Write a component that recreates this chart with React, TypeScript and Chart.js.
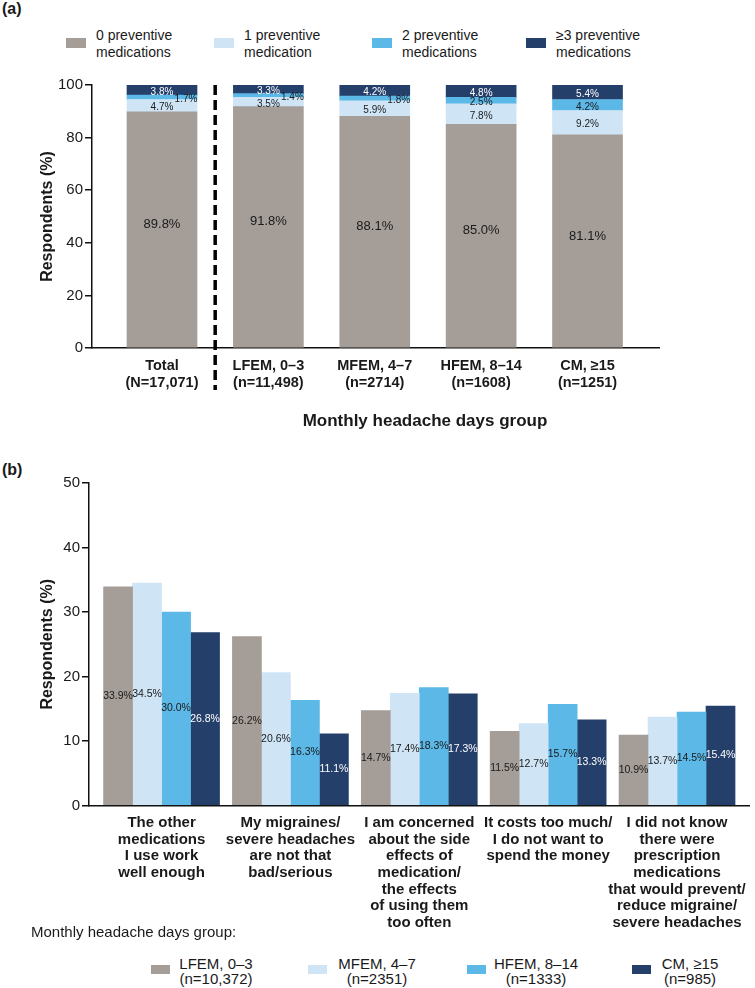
import React, { useEffect, useRef } from "react";
import { Chart, registerables } from "chart.js";

Chart.register(...registerables);

const FONT = '"Liberation Sans", Arial, Helvetica, sans-serif';

// ---------- Panel (a) data ----------
const groupsA: string[][] = [
  ["Total", "(N=17,071)"],
  ["LFEM, 0–3", "(n=11,498)"],
  ["MFEM, 4–7", "(n=2714)"],
  ["HFEM, 8–14", "(n=1608)"],
  ["CM, ≥15", "(n=1251)"],
];
const zeroMeds = [89.8, 91.8, 88.1, 85.0, 81.1];
const oneMed = [4.7, 3.5, 5.9, 7.8, 9.2];
const twoMeds = [1.7, 1.4, 1.8, 2.5, 4.2];
const threePlusMeds = [3.8, 3.3, 4.2, 4.8, 5.4];
const seriesNamesA: string[][] = [
  ["0 preventive", "medications"],
  ["1 preventive", "medication"],
  ["2 preventive", "medications"],
  ["≥3 preventive", "medications"],
];
const yTicksA = [0, 20, 40, 60, 80, 100];
const xTitleA = "Monthly headache days group";

// ---------- Panel (b) data ----------
const reasons: string[][] = [
  ["The other", "medications", "I use work", "well enough"],
  ["My migraines/", "severe headaches", "are not that", "bad/serious"],
  ["I am concerned", "about the side", "effects of", "medication/", "the effects", "of using them", "too often"],
  ["It costs too much/", "I do not want to", "spend the money"],
  ["I did not know", "there were", "prescription", "medications", "that would prevent/", "reduce migraine/", "severe headaches"],
];
const lfemB = [33.9, 26.2, 14.7, 11.5, 10.9];
const mfemB = [34.5, 20.6, 17.4, 12.7, 13.7];
const hfemB = [30.0, 16.3, 18.3, 15.7, 14.5];
const cmB = [26.8, 11.1, 17.3, 13.3, 15.4];
const groupNamesB: string[][] = [
  ["LFEM, 0–3", "(n=10,372)"],
  ["MFEM, 4–7", "(n=2351)"],
  ["HFEM, 8–14", "(n=1333)"],
  ["CM, ≥15", "(n=985)"],
];
const yTicksB = [0, 10, 20, 30, 40, 50];
const legendTitleB = "Monthly headache days group:";

// ---------- styles ----------
const COLORS = ["#a59d98", "#cfe5f6", "#5cb8e6", "#253f6b"];
const TEXT = "#1a1a1a";
const LABEL_COLORS_A = [TEXT, TEXT, TEXT, "#ffffff"];
const LABEL_COLORS_B = [TEXT, TEXT, TEXT, "#ffffff"];
const legendLeftA = [66, 214, 372, 526];
const legendSwatchB = [151, 308, 467, 632];
const legendTextCenterB = [216, 377, 536, 690];

const seriesA = [zeroMeds, oneMed, twoMeds, threePlusMeds];
const seriesB = [lfemB, mfemB, hfemB, cmB];

const fmt = (v: number) => `${v.toFixed(1)}%`;

const labelsPluginA = {
  id: "labelsA",
  afterDatasetsDraw(chart: any) {
    const ctx = chart.ctx;
    ctx.save();
    ctx.textAlign = "center";
    ctx.textBaseline = "middle";
    seriesA.forEach((vals, di) => {
      const meta = chart.getDatasetMeta(di);
      meta.data.forEach((el: any, j: number) => {
        const { x, y, base } = el.getProps(["x", "y", "base"], true);
        const cy = (y + base) / 2;
        ctx.fillStyle = LABEL_COLORS_A[di];
        if (di === 0) {
          ctx.font = `13px ${FONT}`;
          ctx.fillText(fmt(vals[j]), x, cy - 5);
        } else {
          ctx.font = `10px ${FONT}`;
          const small = di === 2 && vals[j] < 2;
          ctx.fillText(fmt(vals[j]), small ? x + 24 : x, cy + 2);
        }
      });
    });
    ctx.restore();
  },
};

const dividerPluginA = {
  id: "dividerA",
  afterDraw(chart: any) {
    const ctx = chart.ctx;
    const xs = chart.scales.x;
    const px = xs.getPixelForValue(0.5);
    ctx.save();
    ctx.strokeStyle = "#000";
    ctx.lineWidth = 3.5;
    ctx.setLineDash([10, 5]);
    ctx.beginPath();
    ctx.moveTo(px, chart.chartArea.top);
    ctx.lineTo(px, chart.chartArea.bottom + 42);
    ctx.stroke();
    ctx.restore();
  },
};

const labelsPluginB = {
  id: "labelsB",
  afterDatasetsDraw(chart: any) {
    const ctx = chart.ctx;
    ctx.save();
    ctx.textAlign = "center";
    ctx.textBaseline = "middle";
    ctx.font = `10.5px ${FONT}`;
    seriesB.forEach((vals, di) => {
      const meta = chart.getDatasetMeta(di);
      meta.data.forEach((el: any, j: number) => {
        const { x, y, base } = el.getProps(["x", "y", "base"], true);
        ctx.fillStyle = LABEL_COLORS_B[di];
        ctx.fillText(fmt(vals[j]), x, (y + base) / 2);
      });
    });
    ctx.restore();
  },
};

function makeConfigA(): any {
  return {
    type: "bar",
    data: {
      datasets: seriesA.map((vals, i) => ({
        label: seriesNamesA[i].join(" "),
        data: vals.map((v, j) => ({ x: j, y: v })),
        backgroundColor: COLORS[i],
        borderWidth: 0,
        barThickness: 70,
        stack: "all",
      })),
    },
    options: {
      animation: false,
      responsive: false,
      layout: { padding: { top: 25, right: 96, bottom: 0, left: 0 } },
      plugins: { legend: { display: false }, tooltip: { enabled: false } },
      scales: {
        x: {
          type: "linear",
          stacked: true,
          offset: false,
          min: -0.658,
          max: 4.672,
          afterBuildTicks: (axis: any) => {
            axis.ticks = groupsA.map((_, i) => ({ value: i }));
          },
          afterFit: (s: any) => {
            s.height = 92;
          },
          grid: { display: false, drawTicks: false },
          border: { display: true, color: "#111", width: 1.5 },
          ticks: {
            autoSkip: false,
            maxRotation: 0,
            minRotation: 0,
            padding: 9.5,
            color: TEXT,
            font: { family: FONT, size: 14.5, weight: "bold", lineHeight: 1.17 },
            callback: (_v: any, i: number) => groupsA[i],
          },
        },
        y: {
          stacked: true,
          min: 0,
          max: 100,
          afterBuildTicks: (axis: any) => {
            axis.ticks = yTicksA.map((v) => ({ value: v }));
          },
          afterFit: (s: any) => {
            s.width = 92;
          },
          grid: { drawOnChartArea: false, drawTicks: true, tickLength: 7, color: "#111", lineWidth: 1.5 },
          border: { display: true, color: "#111", width: 1.5 },
          ticks: { padding: 2, color: TEXT, font: { family: FONT, size: 15 } },
          title: {
            display: true,
            text: "Respondents (%)",
            color: TEXT,
            font: { family: FONT, size: 16, weight: "bold" },
            padding: { top: 38.4, bottom: 0 },
          },
        },
      },
    },
    plugins: [labelsPluginA, dividerPluginA],
  };
}

function makeConfigB(): any {
  return {
    type: "bar",
    data: {
      datasets: seriesB.map((vals, i) => ({
        label: groupNamesB[i].join(" "),
        data: vals.map((v, j) => ({ x: j, y: v })),
        backgroundColor: COLORS[i],
        borderWidth: 0,
        barThickness: 29,
      })),
    },
    options: {
      animation: false,
      responsive: false,
      layout: { padding: { top: 43, right: 2, bottom: 0, left: 0 } },
      plugins: { legend: { display: false }, tooltip: { enabled: false } },
      scales: {
        x: {
          type: "linear",
          offset: false,
          min: -0.563,
          max: 4.559,
          afterBuildTicks: (axis: any) => {
            axis.ticks = reasons.map((_, i) => ({ value: i }));
          },
          afterFit: (s: any) => {
            s.height = 134.5;
          },
          grid: { display: false, drawTicks: false },
          border: { display: true, color: "#111", width: 1.5 },
          ticks: {
            autoSkip: false,
            maxRotation: 0,
            minRotation: 0,
            padding: 9,
            color: TEXT,
            font: { family: FONT, size: 15, weight: "bold", lineHeight: 1.11 },
            callback: (_v: any, i: number) => reasons[i],
          },
        },
        y: {
          min: 0,
          max: 50,
          afterBuildTicks: (axis: any) => {
            axis.ticks = yTicksB.map((v) => ({ value: v }));
          },
          afterFit: (s: any) => {
            s.width = 89;
          },
          grid: { drawOnChartArea: false, drawTicks: true, tickLength: 7, color: "#111", lineWidth: 1.5 },
          border: { display: true, color: "#111", width: 1.5 },
          ticks: { padding: 2, color: TEXT, font: { family: FONT, size: 15 } },
          title: {
            display: true,
            text: "Respondents (%)",
            color: TEXT,
            font: { family: FONT, size: 16, weight: "bold" },
            padding: { top: 38.4, bottom: 0 },
          },
        },
      },
    },
    plugins: [labelsPluginB],
  };
}

export default function App() {
  const refA = useRef<HTMLCanvasElement>(null);
  const refB = useRef<HTMLCanvasElement>(null);

  useEffect(() => {
    const a = new Chart(refA.current as HTMLCanvasElement, makeConfigA());
    const b = new Chart(refB.current as HTMLCanvasElement, makeConfigB());
    return () => {
      a.destroy();
      b.destroy();
    };
  }, []);

  const abs = (s: React.CSSProperties): React.CSSProperties => ({ position: "absolute", ...s });

  return (
    <div style={{ position: "relative", width: 755, height: 988, fontFamily: FONT, color: TEXT, overflow: "hidden" }}>
      <style>{"html,body{margin:0;padding:0;overflow:hidden;background:#fff}"}</style>

      <div style={abs({ left: 2, top: 0, fontSize: 16, lineHeight: "18px", fontWeight: "bold" })}>(a)</div>

      {seriesNamesA.map((lines, i) => (
        <React.Fragment key={"la" + i}>
          <div style={abs({ left: legendLeftA[i], top: 38, width: 20, height: 10, background: COLORS[i] })} />
          <div style={abs({ left: legendLeftA[i] + 30, top: 26.5, fontSize: 14, lineHeight: "17px", whiteSpace: "nowrap" })}>
            {lines.map((l, k) => (
              <div key={k}>{l}</div>
            ))}
          </div>
        </React.Fragment>
      ))}

      <div style={abs({ left: 0, top: 60, width: 755, height: 380 })}>
        <canvas ref={refA} width={755} height={380} style={{ width: 755, height: 380, display: "block" }} />
      </div>

      <div style={abs({ left: 275, top: 411, width: 300, textAlign: "center", fontSize: 17, lineHeight: "20px", fontWeight: "bold", whiteSpace: "nowrap" })}>
        {xTitleA}
      </div>

      <div style={abs({ left: 2, top: 461, fontSize: 16, lineHeight: "18px", fontWeight: "bold" })}>(b)</div>

      <div style={abs({ left: 0, top: 440, width: 755, height: 500 })}>
        <canvas ref={refB} width={755} height={500} style={{ width: 755, height: 500, display: "block" }} />
      </div>

      <div style={abs({ left: 31, top: 923, fontSize: 15, lineHeight: "18px", whiteSpace: "nowrap" })}>{legendTitleB}</div>

      {groupNamesB.map((lines, i) => (
        <React.Fragment key={"lb" + i}>
          <div style={abs({ left: legendSwatchB[i], top: 965, width: 19, height: 9, background: COLORS[i] })} />
          <div
            style={abs({
              left: legendTextCenterB[i] - 60,
              top: 955.5,
              width: 120,
              textAlign: "center",
              fontSize: 15,
              lineHeight: "15px",
              whiteSpace: "nowrap",
            })}
          >
            {lines.map((l, k) => (
              <div key={k}>{l}</div>
            ))}
          </div>
        </React.Fragment>
      ))}
    </div>
  );
}
